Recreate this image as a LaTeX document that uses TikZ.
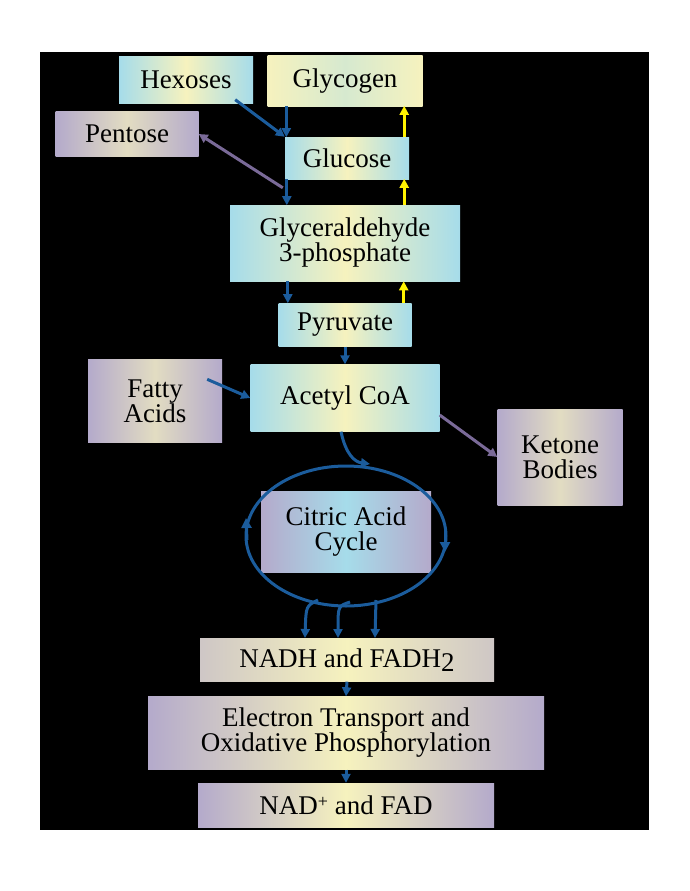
\documentclass[tikz,border=0pt]{standalone}
\usepackage{fontspec}
\setmainfont{Liberation Serif}
\usetikzlibrary{arrows.meta,shapes.geometric}
\definecolor{flow}{HTML}{1B5C9C}
\definecolor{side}{HTML}{7A6A98}
\definecolor{aqua}{HTML}{A6DCEA}
\definecolor{cream}{HTML}{F6F2BE}
\definecolor{lilac}{HTML}{B4AACB}
\tikzstyle{cbox} = [inner sep=0pt,left color=aqua,right color=aqua,middle color=cream]
\tikzstyle{ybox} = [inner sep=0pt,left color=cream,right color=cream,middle color=aqua!40!cream]
\tikzstyle{pbox} = [inner sep=0pt,left color=lilac,right color=lilac,middle color=cream!70!lilac]
\tikzstyle{fwd}  = [-{Triangle[length=9pt,width=9pt]},line width=3pt,flow]
\tikzstyle{back} = [-{Triangle[length=9pt,width=9pt]},line width=3pt,yellow]
\tikzstyle{aside}= [-{Triangle[length=9pt,width=9pt]},line width=3pt,side]

\begin{document}
\begin{tikzpicture}[x=1pt,y=-1pt,font=\fontsize{27}{29}\selectfont]
\useasboundingbox[fill=white] (0,0) rectangle (689,891);
\fill[black] (40,52) rectangle (649,830);

% boxes
\node[cbox,minimum width=134,minimum height=47] (hex) at (186,80) {Hexoses};
\node[ybox,minimum width=155,minimum height=50] (glyc) at (345,81) {Glycogen};
\node[pbox,minimum width=143,minimum height=45] (pent) at (127,134) {Pentose};
\node[cbox,minimum width=124,minimum height=42] (gluc) at (347,158) {Glucose};
\node[cbox,minimum width=230,minimum height=76,align=center] (gap) at (345,243) {Glyceraldehyde\\[-4pt]3-phosphate};
\node[cbox,minimum width=133,minimum height=43] (pyr) at (345,325) {Pyruvate};
\node[pbox,minimum width=134,minimum height=83,align=center] (fat) at (155,401) {Fatty\\[-4pt]Acids};
\node[cbox,minimum width=189,minimum height=67] (acoa) at (345,398) {Acetyl CoA};
\node[pbox,minimum width=125,minimum height=96,align=center] (ket) at (560,457) {Ketone\\[-4pt]Bodies};
\node[pbox,minimum width=170,minimum height=81,align=center,middle color=aqua] (tca) at (346,532) {Citric Acid\\[-4pt]Cycle};
\node[ybox,minimum width=294,minimum height=43,left color=lilac!60!cream,right color=lilac!60!cream,middle color=cream] (nadh) at (347,660) {NADH and FADH\raisebox{-4pt}{2}};
\node[pbox,minimum width=396,minimum height=73,align=center,middle color=cream] (etc) at (346,733) {Electron Transport and\\[-4pt]Oxidative Phosphorylation};
\node[pbox,minimum width=296,minimum height=44,middle color=cream] (nad) at (346,805) {NAD\raisebox{7pt}{\fontsize{18}{18}\selectfont +} and FAD};

% cycle
\node[ellipse,draw=flow,line width=3pt,minimum width=200,minimum height=140] (ring) at (346,536) {};
\coordinate (rtop) at (370,464);
\coordinate (rlft) at (246,518);
\coordinate (rrgt) at (445,552);
\coordinate (n1) at (305,638);
\coordinate (n2) at (338,638);
\coordinate (n3) at (375,638);

% connectors
\draw[fwd] (hex.south east) ++(-18,-4) -- (gluc.north west);
\draw[fwd] (glyc.south west) ++(19,0) -- ++(0,31);
\draw[fwd] (gluc.south west) ++(2,0) -- ++(0,26);
\draw[fwd] (gap.south west) ++(58,0) -- ++(0,22);
\draw[aside] (gap.north west) ++(53,-17) -- (pent.east);
\draw[back] (pyr.north east) ++(-8,0) -- ++(0,-22);
\draw[back] (gap.north east) ++(-56,0) -- ++(0,-26);
\draw[back] (gluc.north east) ++(-5,0) -- ++(0,-31);
\draw[fwd] (pyr.south) -- (acoa.north);
\draw[fwd] (fat.north east) ++(-15,20) -- (acoa.west);
\draw[aside] (acoa.east) ++(0,17) -- (ket.west);
\draw[fwd] (acoa.south) ++(-4,0) .. controls (346,455) and (355,462) .. (rtop);
\draw[fwd,-{Triangle[length=10pt,width=10pt]}] (247,540) -- (rlft);
\draw[fwd,-{Triangle[length=10pt,width=10pt]}] (445,530) -- (rrgt);
\draw[fwd] (318,600) .. controls (306,606) .. (n1);
\draw[fwd] (350,602) .. controls (338,606) .. (n2);
\draw[fwd] (376,600) -- (n3);
\draw[fwd] (nadh.south) -- (etc.north);
\draw[fwd] (etc.south) -- (nad.north);

\end{tikzpicture}
\end{document}
